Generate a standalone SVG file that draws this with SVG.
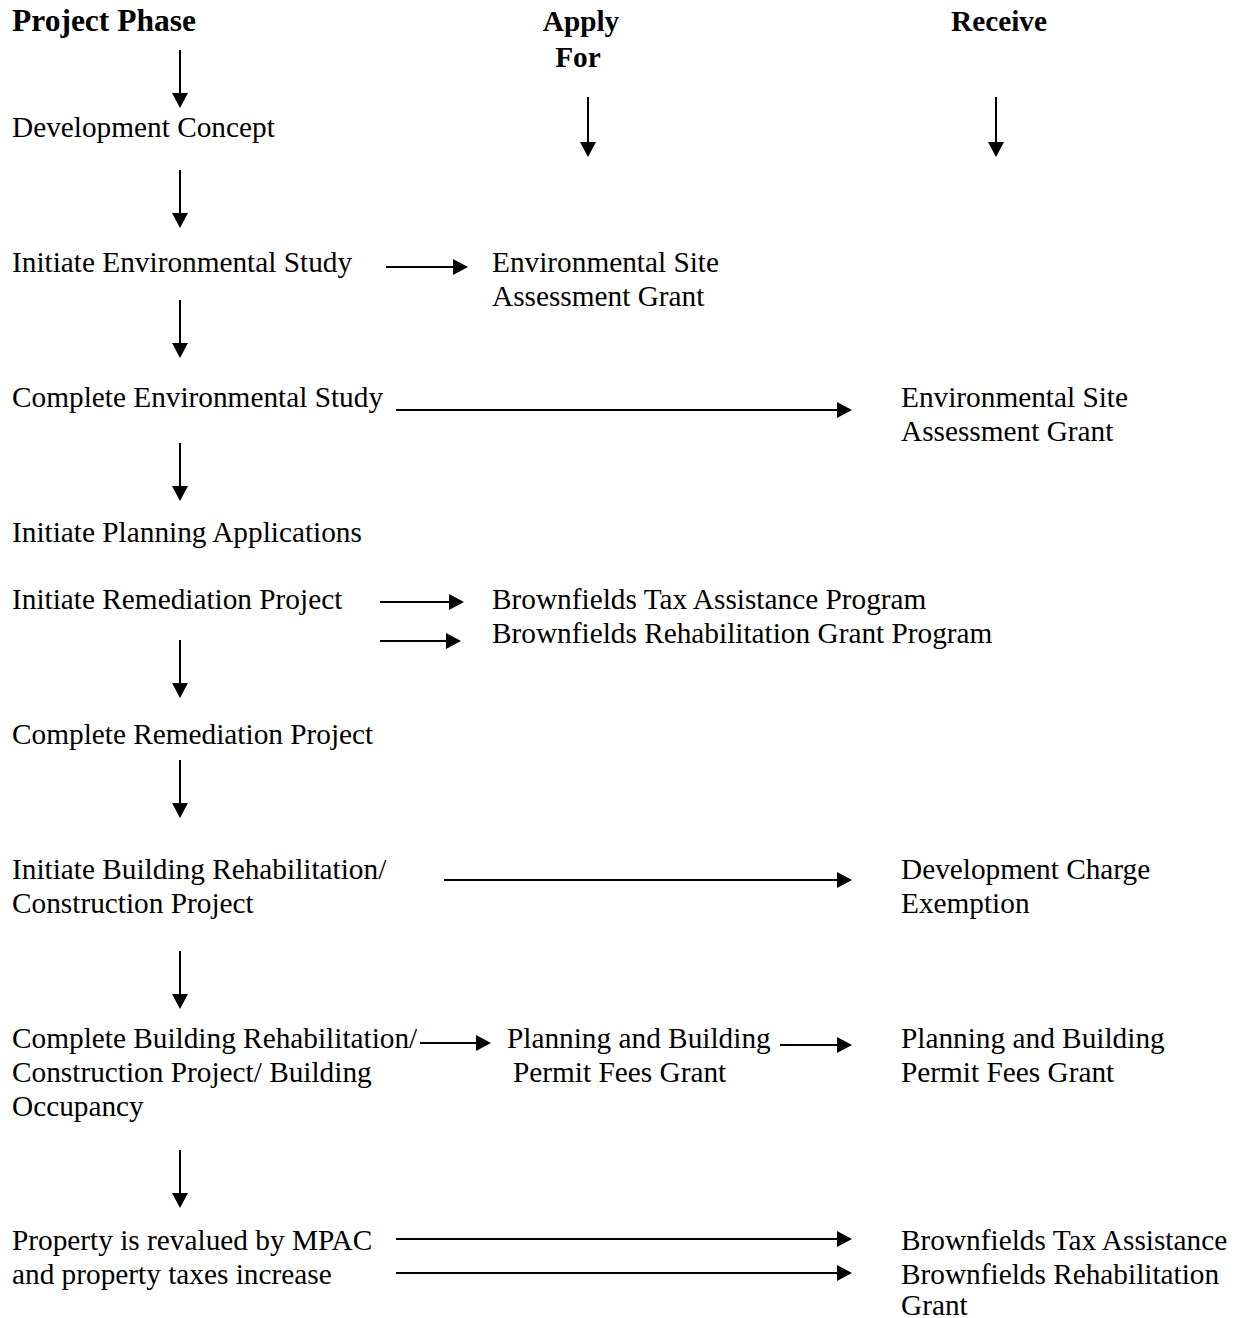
<svg xmlns="http://www.w3.org/2000/svg" width="1239" height="1318" viewBox="0 0 1239 1318">
<style>
text{font-family:"Liberation Serif","Times New Roman",serif;font-size:29.3px;fill:#000}
.h{font-weight:bold}
.c{stroke:#000;stroke-width:2;fill:none}
</style>
<defs>
<marker id="ah" markerUnits="userSpaceOnUse" markerWidth="16" markerHeight="16" refX="0" refY="8" orient="auto" overflow="visible">
<path d="M0,0 L15,8 L0,16 Z" fill="#000"/>
</marker>
</defs>
<rect width="1239" height="1318" fill="#fff"/>
<g id="headers">
<text id="h-phase" class="h" x="12" y="31" style="font-size:31.5px">Project Phase</text>
<text id="h-apply" class="h" x="581" y="31" text-anchor="middle">Apply</text>
<text id="h-for" class="h" x="578" y="67" text-anchor="middle">For</text>
<text id="h-receive" class="h" x="999" y="31" text-anchor="middle">Receive</text>
</g>
<g id="n-concept"><text x="12" y="136.5">Development Concept</text></g>
<g id="n-init-env"><text x="12" y="271.5">Initiate Environmental Study</text></g>
<g id="n-apply-esa"><text x="492" y="271.5">Environmental Site</text><text x="492" y="305.5">Assessment Grant</text></g>
<g id="n-comp-env"><text x="12" y="406.5">Complete Environmental Study</text></g>
<g id="n-recv-esa"><text x="901" y="406.5">Environmental Site</text><text x="901" y="440.5">Assessment Grant</text></g>
<g id="n-planning"><text x="12" y="541.5">Initiate Planning Applications</text></g>
<g id="n-init-rem"><text x="12" y="608.5">Initiate Remediation Project</text></g>
<g id="n-apply-btap"><text x="492" y="608.5">Brownfields Tax Assistance Program</text></g>
<g id="n-apply-brgp"><text x="492" y="642.5">Brownfields Rehabilitation Grant Program</text></g>
<g id="n-comp-rem"><text x="12" y="743.5">Complete Remediation Project</text></g>
<g id="n-init-bld"><text x="12" y="878.5">Initiate Building Rehabilitation/</text><text x="12" y="912.5">Construction Project</text></g>
<g id="n-recv-dce"><text x="901" y="878.5">Development Charge</text><text x="901" y="912.5">Exemption</text></g>
<g id="n-comp-bld"><text x="12" y="1047.5">Complete Building Rehabilitation/</text><text x="12" y="1081.5">Construction Project/ Building</text><text x="12" y="1115.5">Occupancy</text></g>
<g id="n-apply-pbpf"><text x="507" y="1047.5">Planning and Building</text><text x="513" y="1081.5">Permit Fees Grant</text></g>
<g id="n-recv-pbpf"><text x="901" y="1047.5">Planning and Building</text><text x="901" y="1081.5">Permit Fees Grant</text></g>
<g id="n-reval"><text x="12" y="1249.5">Property is revalued by MPAC</text><text x="12" y="1283.5">and property taxes increase</text></g>
<g id="n-recv-bta"><text x="901" y="1249.5">Brownfields Tax Assistance</text></g>
<g id="n-recv-brg"><text x="901" y="1283.5">Brownfields Rehabilitation</text><text x="901" y="1315">Grant</text></g>
<g id="connectors" class="c" marker-end="url(#ah)">
<path d="M180,50 V93"/>
<path d="M180,170 V213"/>
<path d="M180,300 V343"/>
<path d="M180,443 V486"/>
<path d="M180,640 V683"/>
<path d="M180,760 V803"/>
<path d="M180,951 V994"/>
<path d="M180,1150 V1193"/>
<path d="M588,97 V142"/>
<path d="M996,97 V142"/>
<path d="M386,267 H453"/>
<path d="M396,410 H837"/>
<path d="M380,602 H449"/>
<path d="M380,641 H446"/>
<path d="M444,880 H837"/>
<path d="M420,1043 H476"/>
<path d="M780,1045 H837"/>
<path d="M396,1239 H837"/>
<path d="M396,1273 H837"/>
</g>
</svg>
